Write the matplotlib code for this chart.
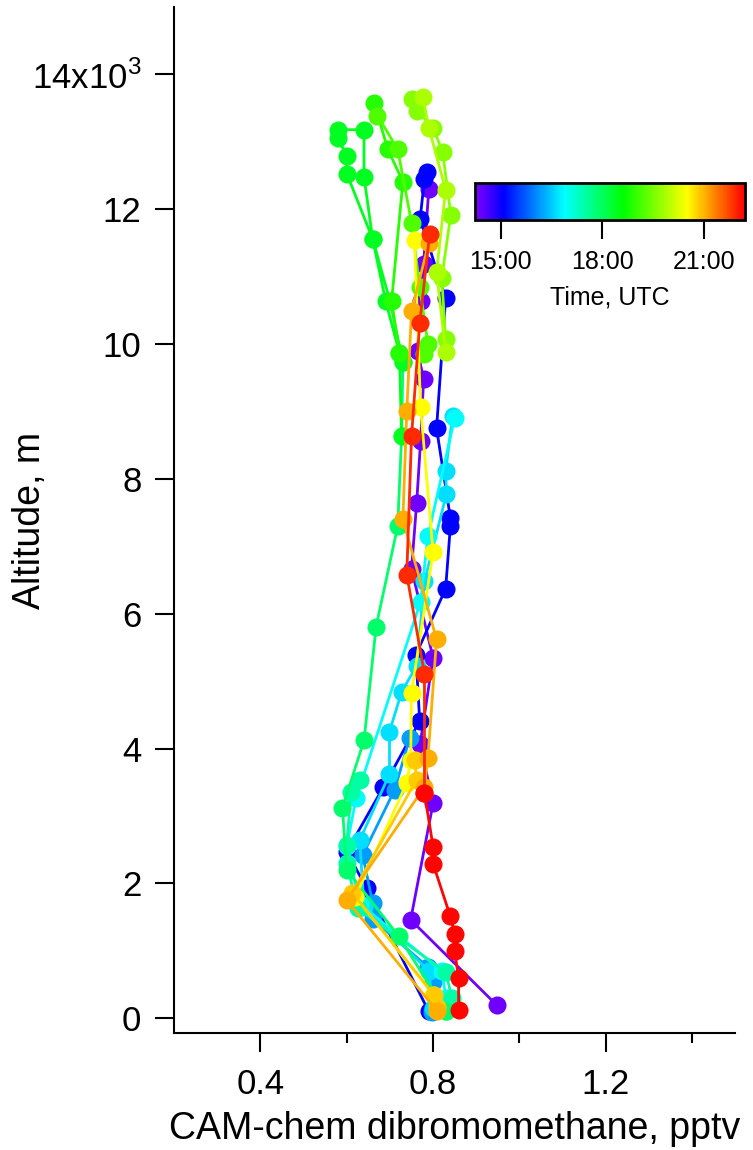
import numpy as np
import matplotlib
matplotlib.use("Agg")
import matplotlib.pyplot as plt
from matplotlib.colors import LinearSegmentedColormap, Normalize
from matplotlib.cm import ScalarMappable
from matplotlib.ticker import FixedLocator, FuncFormatter

plt.rcParams["font.family"] = ["Liberation Sans", "DejaVu Sans"]
plt.rcParams["mathtext.fontset"] = "custom"
plt.rcParams["mathtext.rm"] = "Liberation Sans"

# ── data: one vertical profile per flight leg, time in decimal hours UTC ──
times = [14.4, 15.1, 16.2, 16.65, 16.9, 17.5, 17.9, 18.4, 18.9, 19.2,
         19.6, 19.9, 20.5, 20.85, 21.05, 21.9, 22.15]

alt_01 = [12300, 11190, 10640, 9900, 9480, 8560, 7650, 6660, 5350, 4070, 3190, 1460, 190]
x_01 = [0.79, 0.778, 0.771, 0.764, 0.778, 0.771, 0.762, 0.75, 0.80, 0.77, 0.80, 0.748, 0.948]

alt_02 = [12550, 12450, 11860, 10680, 8750, 7420, 7300, 6370, 5390, 4410, 3430, 2470, 1930, 100]
x_02 = [0.785, 0.78, 0.77, 0.829, 0.808, 0.84, 0.84, 0.829, 0.76, 0.769, 0.685, 0.60, 0.646, 0.79]

alt_03 = [4160, 3390, 2420, 1710, 1470, 760, 530, 90]
x_03 = [0.746, 0.711, 0.637, 0.66, 0.66, 0.788, 0.80, 0.797]

alt_04 = [8940, 8110, 7780, 6480, 5230, 4840, 4250, 3620, 2640, 1650, 700, 150]
x_04 = [0.845, 0.829, 0.831, 0.78, 0.762, 0.727, 0.699, 0.699, 0.63, 0.64, 0.79, 0.80]

alt_05 = [8900, 7150, 6180, 3270, 2550, 1700, 700, 300]
x_05 = [0.85, 0.788, 0.771, 0.622, 0.60, 0.63, 0.82, 0.83]

alt_06 = [3540, 3360, 2570, 2300, 1630, 680, 300, 100]
x_06 = [0.63, 0.61, 0.60, 0.60, 0.625, 0.83, 0.843, 0.83]

alt_07 = [9730, 8630, 7300, 5810, 4120, 3120, 2200, 1220, 100]
x_07 = [0.73, 0.727, 0.718, 0.668, 0.64, 0.59, 0.60, 0.72, 0.83]

alt_08 = [8630, 9870, 10640, 11560, 12480, 13180, 13180, 13050, 12790, 12530, 11560, 10640, 9730]
x_08 = [0.727, 0.722, 0.69, 0.66, 0.64, 0.64, 0.58, 0.58, 0.60, 0.60, 0.66, 0.70, 0.73]

alt_09 = [13570, 12890, 12410, 10640, 9870]
x_09 = [0.664, 0.695, 0.73, 0.704, 0.722]

alt_10 = [13390, 12890, 11800, 10850, 10000, 9850]
x_10 = [0.671, 0.718, 0.75, 0.769, 0.788, 0.78]

alt_11 = [13640, 13460, 13210, 12850, 11920, 10980, 10070]
x_11 = [0.75, 0.762, 0.80, 0.822, 0.841, 0.82, 0.829]

alt_12 = [13670, 13210, 12290, 11070, 9880]
x_12 = [0.776, 0.79, 0.829, 0.808, 0.829]

alt_13 = [11550, 9060, 6910, 4830, 3830, 3490, 1800, 350]
x_13 = [0.757, 0.771, 0.80, 0.75, 0.748, 0.739, 0.62, 0.80]

alt_14 = [3830, 3540, 1860, 340, 160]
x_14 = [0.757, 0.762, 0.613, 0.803, 0.808]

alt_15 = [11500, 10490, 9000, 7400, 5620, 3860, 3430, 1750, 100]
x_15 = [0.79, 0.75, 0.739, 0.73, 0.808, 0.788, 0.78, 0.60, 0.81]

alt_16 = [11630, 10310, 8630, 6580, 5110, 3340]
x_16 = [0.792, 0.769, 0.75, 0.739, 0.78, 0.78]

alt_17 = [3340, 2540, 2290, 1510, 1250, 1000, 590, 120]
x_17 = [0.78, 0.80, 0.80, 0.84, 0.85, 0.85, 0.859, 0.859]

alts = [alt_01, alt_02, alt_03, alt_04, alt_05, alt_06, alt_07, alt_08, alt_09,
        alt_10, alt_11, alt_12, alt_13, alt_14, alt_15, alt_16, alt_17]
xs = [x_01, x_02, x_03, x_04, x_05, x_06, x_07, x_08, x_09,
      x_10, x_11, x_12, x_13, x_14, x_15, x_16, x_17]

# Igor-like "Rainbow" colour table
rainbow = LinearSegmentedColormap.from_list(
    "igor_rainbow",
    [(0.0, "#8000ff"), (0.105, "#0000ff"), (0.33, "#00ffff"),
     (0.55, "#00ff00"), (0.787, "#ffff00"), (1.0, "#ff0000")])
norm = Normalize(vmin=14.25, vmax=22.2)

# ── figure ──
fig = plt.figure(figsize=(7.53, 11.5), dpi=100)
ax = fig.add_axes([0.2311, 0.1017, 0.7455, 0.8922])

for k, (t, x, a) in enumerate(zip(times, xs, alts)):
    c = rainbow(norm(t))
    ax.plot(x, a, "-o", color=c, lw=2.0, ms=13, mew=0, zorder=2 + k)

ax.set_xlim(0.2, 1.5)
ax.set_ylim(-220, 15000)

for s in ("top", "right"):
    ax.spines[s].set_visible(False)
for s in ("left", "bottom"):
    ax.spines[s].set_linewidth(1.5)

ax.xaxis.set_major_locator(FixedLocator([0.4, 0.8, 1.2]))
ax.xaxis.set_minor_locator(FixedLocator([0.6, 1.0, 1.4]))
ax.yaxis.set_major_locator(FixedLocator(np.arange(0, 14001, 2000)))


def yfmt(v, pos):
    v = int(round(v / 1000))
    return r"14x10$^{3}$" if v == 14 else str(v)


ax.yaxis.set_major_formatter(FuncFormatter(yfmt))
ax.tick_params(axis="both", which="major", direction="out", length=13.5,
               width=1.5, labelsize=25)
ax.tick_params(axis="y", which="major", pad=10)
ax.tick_params(axis="x", which="major", pad=12)
ax.tick_params(axis="x", which="minor", direction="out", length=7, width=1.5)

ax.set_xlabel("CAM-chem dibromomethane, pptv", fontsize=27)
ax.xaxis.set_label_coords(0.5, -0.076)
ax.set_ylabel("Altitude, m", fontsize=27)
ax.yaxis.set_label_coords(-0.224, 0.5)

# ── colour scale inset ──
cax = fig.add_axes([0.631, 0.809, 0.358, 0.032])
cb = fig.colorbar(ScalarMappable(norm=norm, cmap=rainbow), cax=cax,
                  orientation="horizontal")
cb.set_ticks([15, 18, 21])
cb.set_ticklabels(["15:00", "18:00", "21:00"])
cb.outline.set_linewidth(2)
cax.tick_params(direction="out", length=14, width=1.5, labelsize=18, pad=8)
cb.set_label("Time, UTC", fontsize=18, labelpad=8)

fig.savefig("out.png", dpi=100)
